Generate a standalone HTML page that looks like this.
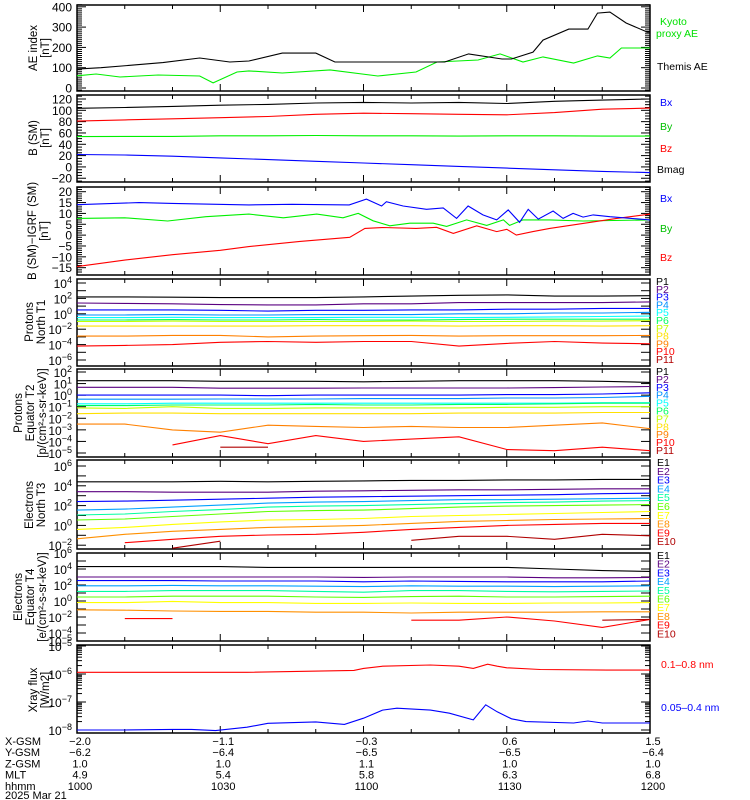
<!DOCTYPE html>
<html><head><meta charset="utf-8"><style>
html,body{margin:0;padding:0;background:#fff;}
svg{display:block;font-family:"Liberation Sans",sans-serif;}
</style></head><body>
<svg id="chart" width="750" height="800" viewBox="0 0 750 800" xmlns="http://www.w3.org/2000/svg"></svg>
<script>
// ---------- DATA ----------
const hourTicks=["1000","1030","1100","1130","1200"];
const xgsm=["-2.0","-1.1","-0.3","0.6","1.5"];
const ygsm=["-6.2","-6.4","-6.5","-6.5","-6.4"];
const zgsm=["1.0","1.0","1.1","1.0","1.0"];
const mlt=["4.9","5.4","5.8","6.3","6.8"];
// AE (minutes after 10:00)
const aeThemisT=[0,5,11.7,18,25.7,32,36,43,50,54,64,77,82,89,91,95.5,97.6,103,107,109,111.6,115,119.4,120];
const aeThemisV=[93,100,113,125,148,128,133,172,172,128,128,128,168,143,143,177,236,290,290,369,374,320,276,276];
const aeKyotoT=[0,4,9,17,25.7,28.5,33.5,36,43,53,63,71,75.4,84,88.6,93.4,97.6,104,109,111.6,114,120];
const aeKyotoV=[60,69,54,64,59,25,79,84,74,89,59,79,128,138,168,128,153,123,158,148,197,197];
// B (SM), 10-min nodes
const bTimes=[0,10,20,30,40,50,60,70,80,90,100,110,120];
const bMag=[103.5,105,107,109,110.5,113,114,113,114,112,116,118,120];
const bZ=[81,83,85,87,89,93,95,94,93,92,96,102,104];
const bY=[53.5,54,54,55,55,55.5,55,55,54.5,55,55,54.5,54.5];
const bX=[22,21,19,16,13,10,7,4,1,-2,-5,-8,-10];
// dB (SM)-IGRF
const dbBxT=[0,13,20,36,45,57,60.6,63.8,64.8,68.3,73.2,76.7,79.5,81.9,85,87.9,90.3,92.7,94.5,96.6,99.7,101.8,103.9,106,108.1,111.6,120];
const dbBxV=[14,15,14.6,13.9,14.2,13.9,16.6,13.4,15.4,13.4,11.9,12.5,7.7,13.4,9.3,7,11.6,5.9,11.9,7.4,11.1,7.7,10,8.3,9.3,8.5,7];
const dbByT=[0,10,19,27,36,43.2,50.2,55.7,58.9,62,65.5,69.7,74.6,77.4,81.6,85.8,89.3,90.6,93.4,99,106,120];
const dbByV=[7.7,8,6.5,8.5,9.7,8,9.7,8,10,6.6,4.3,5.5,5.5,4,7,4.5,7,4.5,7,7,6.5,7];
const dbBzT=[0,10,20,30,36,46.7,57.1,60.3,64,71,75.3,78.8,83.7,87.9,90,92,95.5,99,106,113,120];
const dbBzV=[-14.5,-11.5,-9,-7,-5.3,-2.9,-1,3.1,3.5,3.1,3.6,0.8,4.3,1.6,2.7,0,1.6,3.1,5.4,7.7,9.7];
// Particle channels: log10 flux at 10-min nodes (null = no data)
const pT=[0,10,20,30,40,50,60,70,80,90,100,110,120];
const t1P1=[2.2,2.2,2.15,2.1,2.1,2.1,2.2,2.3,2.4,2.45,2.3,2.3,2.35];
const t1P2=[1.4,1.35,1.3,1.2,1.15,1.15,1.3,1.3,1.45,1.45,1.45,1.45,1.55];
const t1P3=[0.5,0.5,0.5,0.45,0.35,0.45,0.45,0.5,0.5,0.6,0.6,0.7,0.7];
const t1P4=[-0.15,-0.15,-0.1,-0.15,-0.15,-0.1,-0.1,-0.1,0,0,0.1,0.1,0.2];
const t1P5=[-0.5,-0.5,-0.45,-0.5,-0.5,-0.5,-0.45,-0.45,-0.5,-0.45,-0.4,-0.35,-0.3];
const t1P6=[-0.8,-0.8,-0.75,-0.8,-0.8,-0.75,-0.8,-0.8,-0.75,-0.7,-0.7,-0.7,-0.7];
const t1P7=[-1.0,-1.0,-0.95,-1.0,-1.0,-1.0,-1.0,-0.95,-1.0,-1.0,-0.95,-0.95,-0.9];
const t1P8=[-1.6,-1.6,-1.6,-1.6,-1.6,-1.55,-1.55,-1.55,-1.6,-1.55,-1.55,-1.6,-1.55];
const t1P9=[-2.9,-2.9,-2.8,-2.8,-3.0,-2.9,-2.85,-2.8,-2.9,-2.85,-2.85,-2.85,-2.8];
const t1P10=[-4.2,-4.1,-4.0,-3.7,-3.6,-3.7,-3.6,-3.6,-4.2,-3.85,-3.6,-3.8,-3.9];
const t1P11=[null,null,null,null,null,null,null,null,null,null,null,null,null];
const t2P1=[1.25,1.25,1.25,1.2,1.2,1.2,1.15,1.2,1.25,1.25,1.25,1.2,1.1];
const t2P2=[0.68,0.68,0.68,0.6,0.6,0.6,0.62,0.62,0.62,0.62,0.65,0.7,0.75];
const t2P3=[0,0,0,0,-0.05,0,0,0,0,0.05,0.05,0.1,0.2];
const t2P4=[-0.35,-0.35,-0.35,-0.33,-0.33,-0.33,-0.3,-0.3,-0.3,-0.25,-0.25,-0.2,-0.1];
const t2P5=[-0.75,-0.75,-0.7,-0.7,-0.7,-0.7,-0.7,-0.7,-0.7,-0.7,-0.7,-0.65,-0.65];
const t2P6=[-0.9,-0.9,-0.85,-0.85,-0.85,-0.8,-0.85,-0.85,-0.8,-0.8,-0.75,-0.7,-0.7];
const t2P7=[-1.1,-1.15,-1.0,-1.15,-1.15,-1.1,-1.1,-1.1,-1.1,-1.05,-1.05,-1.0,-1.0];
const t2P8=[-1.6,-1.55,-1.55,-1.6,-1.6,-1.6,-1.6,-1.6,-1.55,-1.55,-1.55,-1.5,-1.5];
const t2P9=[-2.5,-2.5,-3.0,-3.2,-2.6,-2.7,-2.8,-2.7,-2.8,-2.8,-2.6,-2.4,-2.9];
const t2P10=[-3.5,null,-4.3,-3.5,-4.2,-3.5,-4.0,-3.8,-3.6,-4.7,-4.8,-4.5,-4.8];
const t2P11=[null,null,null,-4.5,-4.5,null,null,null,null,null,null,null,null];
const t3E1=[4.4,4.4,4.4,4.45,4.4,4.45,4.5,4.55,4.55,4.6,4.6,4.65,4.65];
const t3E2=[3.4,3.4,3.35,3.35,3.35,3.45,3.5,3.55,3.6,3.6,3.65,3.7,3.7];
const t3E3=[2.4,2.45,2.55,2.65,2.75,2.85,2.9,2.95,3.0,3.05,3.1,3.2,3.25];
const t3E4=[1.55,1.65,1.85,2.05,2.25,2.35,2.4,2.5,2.6,2.6,2.65,2.7,2.75];
const t3E5=[1.05,1.15,1.4,1.6,1.85,1.95,2.0,2.1,2.2,2.3,2.35,2.45,2.5];
const t3E6=[0.55,0.65,0.9,1.15,1.4,1.5,1.55,1.7,1.85,1.95,2.0,2.05,2.1];
const t3E7=[-0.4,-0.2,0.1,0.35,0.55,0.6,0.7,0.9,1.0,1.1,1.2,1.3,1.4];
const t3E8=[-1.35,-0.9,-0.6,-0.4,-0.2,-0.1,0,0.2,0.4,0.5,0.6,0.65,0.7];
const t3E9=[null,-1.75,-1.4,-1.1,-0.97,-0.9,-0.7,-0.4,-0.2,0,0.1,0.2,0.2];
const t3E10=[null,null,-2.3,-1.6,null,null,null,-1.5,-1.1,-1.1,-1.4,-0.9,-1.05];
const t4E1=[4.3,4.3,4.3,4.3,4.2,4.2,4.2,4.2,4.2,4.2,4.0,3.8,3.7];
const t4E2=[3.0,3.0,3.0,3.0,3.0,3.0,2.95,3.0,3.0,3.0,2.9,2.9,2.95];
const t4E3=[2.55,2.55,2.55,2.5,2.5,2.5,2.4,2.5,2.45,2.4,2.4,2.4,2.5];
const t4E4=[1.9,1.9,1.95,1.9,1.9,1.85,1.8,1.9,1.85,1.85,1.8,1.85,1.9];
const t4E5=[1.2,1.2,1.3,1.3,1.3,1.2,1.1,1.3,1.3,1.2,1.15,1.2,1.25];
const t4E6=[0.5,0.5,0.6,0.6,0.6,0.5,0.45,0.55,0.6,0.5,0.5,0.55,0.6];
const t4E7=[-0.2,-0.2,-0.05,-0.2,-0.2,-0.3,-0.3,-0.25,-0.3,-0.3,-0.25,-0.25,-0.2];
const t4E8=[-1.1,-1.15,-1.25,-1.3,-1.3,-1.4,-1.4,-1.5,-1.4,-1.4,-1.4,-1.35,-1.35];
const t4E9=[null,-2.2,-2.2,null,null,null,null,-2.4,-2.4,-2.0,-2.5,-3.3,-2.3];
const t4E10=[null,null,null,null,null,null,null,null,null,null,null,-2.4,-2.3];
// X-ray flux (log10 W/m2)
const xrLongT=[0,35.6,58,60,64,74,80,83,86,88,90,97,111,120];
const xrLongV=[-5.94,-5.94,-5.87,-5.8,-5.72,-5.68,-5.72,-5.8,-5.65,-5.72,-5.78,-5.84,-5.86,-5.86];
const xrShortT=[0,10,20,24,29,35.6,40,50,56,60,64,67,74,78,83,85.6,88,91,94,104,107,110,120];
const xrShortV=[-8.0,-8.0,-7.98,-7.98,-8.02,-7.9,-7.76,-7.71,-7.8,-7.58,-7.29,-7.22,-7.29,-7.4,-7.64,-7.1,-7.35,-7.6,-7.7,-7.75,-7.68,-7.75,-7.75];

// ---------- DRAWING ----------
const svg=document.getElementById('chart');
const NS='http://www.w3.org/2000/svg';
const X0=77,X1=650;
function xs(t){return X0+(t/120)*(X1-X0);}
function el(tag,attrs,parent){const e=document.createElementNS(NS,tag);for(const k in attrs)e.setAttribute(k,attrs[k]);(parent||svg).appendChild(e);return e;}
const PCOL=['#000000','#5a0080','#0000ff','#0090ff','#00ffff','#00ff60','#c0ff00','#ffe000','#ff8000','#ff0000','#b00000'];
const ECOL=['#000000','#5a0080','#0000ff','#00a0ff','#00ffa0','#60ff00','#ffff00','#ff9000','#ff0000','#b00000'];

function frame(p,name){
  const r=el('rect',{x:X0,y:p.top,width:X1-X0,height:p.bot-p.top,fill:'none',stroke:'#000','stroke-width':1.5});
  
  
  for(let m=0;m<=120;m+=10){
    const len=(m%30===0)?7:4, x=xs(m);
    el('line',{x1:x,x2:x,y1:p.top,y2:p.top+len,stroke:'#000','stroke-width':1});
    el('line',{x1:x,x2:x,y1:p.bot,y2:p.bot-len,stroke:'#000','stroke-width':1});
  }
}
function yTicks(p,vals,majorTest,labelFn){
  vals.forEach(v=>{
    const y=p.y(v); if(y<p.top-0.5||y>p.bot+0.5) return;
    const major=majorTest(v), len=major?9:5;
    el('line',{x1:X0,x2:X0+len,y1:y,y2:y,stroke:'#000','stroke-width':1});
    el('line',{x1:X1,x2:X1-len,y1:y,y2:y,stroke:'#000','stroke-width':1});
    if(major&&labelFn){labelFn(v,y);}
  });
}
function linLabel(v,y){const t=el('text',{x:72,y:y+4.5,'text-anchor':'end','font-size':12});t.textContent=String(v).replace('-','\u2212');}
function logLabel(v,y){const t=el('text',{x:72,y:y+5,'text-anchor':'end','font-size':12});
  const a=el('tspan',{},t);a.textContent='10';const b=el('tspan',{dy:-5,'font-size':9},t);b.textContent=String(v).replace('-','\u2212');}
function series(p,T,V,color,name){
  let d='',pen=false;
  for(let i=0;i<T.length;i++){
    if(V[i]===null||V[i]===undefined){pen=false;continue;}
    const x=xs(T[i]),y=Math.max(p.top,Math.min(p.bot,p.y(V[i])));
    d+=(pen?'L':'M')+x.toFixed(1)+','+y.toFixed(1);pen=true;
  }
  if(!d) return;
  const path=el('path',{d:d,fill:'none',stroke:color,'stroke-width':1.1});
  
  
}
function ytitle(lines,cy,x0){
  lines.forEach((s,i)=>{
    const t=el('text',{x:0,y:0,'text-anchor':'middle','font-size':11.5,transform:'translate('+(x0+i*12)+','+cy+') rotate(-90)'});
    t.textContent=s;
    
    
  });
}
function legend(text,x,y,color){
  const t=el('text',{x:x,y:y,'font-size':10.5,fill:color});t.textContent=text;
  
  
}
function range(a,b,s){const r=[];for(let v=a;v<=b+1e-9;v+=s)r.push(Math.round(v*100)/100);return r;}

// Panel 1 AE
const p1={top:5,bot:91,y:v=>88-v*0.203};
frame(p1,'ae-panel');
yTicks(p1,range(-20,420,10),v=>v%100===0,v=>{if(v>=0&&v<=400)linLabel(v,p1.y(v));});
series(p1,aeKyotoT,aeKyotoV,'#00f000','kyoto-ae-line');
series(p1,aeThemisT,aeThemisV,'#000','themis-ae-line');
ytitle(['AE index','[nT]'],48,37);
legend('Kyoto',660,25,'#00e000');legend('proxy AE',656,37,'#00e000');legend('Themis AE',657,70,'#000');

// Panel 2 B SM
const p2={top:95,bot:182,y:v=>99+(120-v)*0.566};
frame(p2,'b-sm-panel');
yTicks(p2,range(-30,130,5),v=>v%20===0,linLabel);
series(p2,bTimes,bMag,'#000','bmag-line');
series(p2,bTimes,bZ,'#ff0000','bz-line');
series(p2,bTimes,bY,'#00f000','by-line');
series(p2,bTimes,bX,'#0000ff','bx-line');
ytitle(['B (SM)','[nT]'],138,37);
legend('Bx',660,106,'#0000ff');legend('By',660,130,'#00c000');legend('Bz',660,152,'#ff0000');legend('Bmag',657,173,'#000');

// Panel 3 dB
const p3={top:187,bot:275,y:v=>191.7+(20-v)*2.171};
frame(p3,'db-panel');
yTicks(p3,range(-17,22,1),v=>v%5===0,linLabel);
series(p3,dbByT,dbByV,'#00f000','dby-line');
series(p3,dbBzT,dbBzV,'#ff0000','dbz-line');
series(p3,dbBxT,dbBxV,'#0000ff','dbx-line');
ytitle(['B (SM)\u2212IGRF (SM)','[nT]'],231,36);
legend('Bx',660,202,'#0000ff');legend('By',660,232,'#00c000');legend('Bz',660,261,'#ff0000');

// Panel 4 Protons T1
const p4={top:279,bot:366,y:L=>283+(4-L)*7.7};
frame(p4,'protons-t1-panel');
yTicks(p4,range(-6,4,1),v=>true,(v,y)=>{if(v%2===0)logLabel(v,y);});
const t1=[t1P1,t1P2,t1P3,t1P4,t1P5,t1P6,t1P7,t1P8,t1P9,t1P10,t1P11];
t1.forEach((a,i)=>series(p4,pT,a,PCOL[i],'t1-p'+(i+1)+'-line'));
ytitle(['Protons','North T1'],322,33);
t1.forEach((a,i)=>legend('P'+(i+1),656,285+i*7.8,PCOL[i]));

// Panel 5 Protons T2
const p5={top:369,bot:457,y:L=>372+(2-L)*11.57};
frame(p5,'protons-t2-panel');
yTicks(p5,range(-5,2,1),v=>true,logLabel);
const t2=[t2P1,t2P2,t2P3,t2P4,t2P5,t2P6,t2P7,t2P8,t2P9,t2P10,t2P11];
t2.forEach((a,i)=>series(p5,pT,a,PCOL[i],'t2-p'+(i+1)+'-line'));
ytitle(['Protons','Equator T2','[p/(cm\u00b2-s-sr-keV)]'],413,22);
t2.forEach((a,i)=>legend('P'+(i+1),656,375+i*7.9,PCOL[i]));

// Panel 6 Electrons T3
const p6={top:460,bot:549,y:L=>466+(6-L)*9.9};
frame(p6,'electrons-t3-panel');
yTicks(p6,range(-2,6,1),v=>true,(v,y)=>{if(v%2===0)logLabel(v,y);});
const t3=[t3E1,t3E2,t3E3,t3E4,t3E5,t3E6,t3E7,t3E8,t3E9,t3E10];
t3.forEach((a,i)=>series(p6,pT,a,ECOL[i],'t3-e'+(i+1)+'-line'));
ytitle(['Electrons','North T3'],505,33);
t3.forEach((a,i)=>legend('E'+(i+1),657,466+i*8.8,ECOL[i]));

// Panel 7 Electrons T4
const p7={top:553,bot:641,y:L=>553+(6-L)*8};
frame(p7,'electrons-t4-panel');
yTicks(p7,range(-5,6,1),v=>true,(v,y)=>{if(v%2===0||v===-5)logLabel(v,y);});
const t4=[t4E1,t4E2,t4E3,t4E4,t4E5,t4E6,t4E7,t4E8,t4E9,t4E10];
t4.forEach((a,i)=>series(p7,pT,a,ECOL[i],'t4-e'+(i+1)+'-line'));
ytitle(['Electrons','Equator T4','[e/(cm\u00b2-s-sr-keV)]'],597,22);
t4.forEach((a,i)=>legend('E'+(i+1),657,559+i*8.7,ECOL[i]));

// Panel 8 Xray
const p8={top:645,bot:733,y:L=>646+(-5-L)*28};
frame(p8,'xray-panel');
const xrT=[];for(let d=-5;d>=-8;d--){for(let k=1;k<10;k++){xrT.push(d+Math.log10(k));}}
yTicks(p8,xrT,v=>Math.abs(v-Math.round(v))<1e-6,(v,y)=>logLabel(Math.round(v),y));
series(p8,xrLongT,xrLongV,'#ff0000','xray-long-line');
series(p8,xrShortT,xrShortV,'#0000ff','xray-short-line');
ytitle(['Xray flux','[W/m2]'],690,37);
legend('0.1\u20130.8 nm',661,668,'#ff0000');legend('0.05\u20130.4 nm',661,711,'#0000ff');

// Bottom orbit labels
const rows=[['X-GSM',xgsm],['Y-GSM',ygsm],['Z-GSM',zgsm],['MLT',mlt],['hhmm',hourTicks]];
rows.forEach((r,ri)=>{
  const y=745+ri*11.2;
  const lab=el('text',{x:5,y:y,'font-size':11});lab.textContent=r[0];
  
  
  r[1].forEach((s,i)=>{
    const t=el('text',{x:xs(i*30)+3,y:y,'text-anchor':'middle','font-size':11});
    t.textContent=s.replace('-','\u2212');
    
    
  });
});
const dt=el('text',{x:5,y:799,'font-size':11});dt.textContent='2025 Mar 21';


</script>
</body></html>
